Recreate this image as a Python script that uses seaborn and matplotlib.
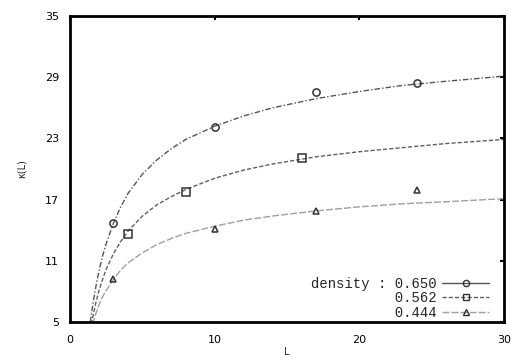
import numpy as np
import pandas as pd
import matplotlib
matplotlib.use("Agg")
import matplotlib.pyplot as plt
import seaborn as sns
from matplotlib.lines import Line2D

densities = ["0.650", "0.562", "0.444"]

# measured points
pts_x_650 = [3, 10, 17, 24]
pts_y_650 = [14.7, 24.1, 27.5, 28.4]
pts_x_562 = [4, 8, 16]
pts_y_562 = [13.6, 17.8, 21.1]
pts_x_444 = [3, 10, 17, 24]
pts_y_444 = [9.2, 14.1, 15.9, 17.9]

# fitted curves
curve_x = [1.4, 1.6, 1.8, 2, 2.25, 2.5, 3, 3.5, 4, 5, 6, 7, 8, 10, 12, 14, 17, 20, 23, 26, 30]
curve_650 = [5.0, 7.0, 8.6, 10.0, 11.5, 12.7, 14.7, 16.3, 17.6, 19.5, 20.9, 22.0, 22.9, 24.2,
             25.2, 26.0, 26.9, 27.6, 28.2, 28.6, 29.1]
curve_562 = [4.2, 5.7, 7.0, 8.1, 9.2, 10.2, 11.7, 12.9, 13.9, 15.4, 16.5, 17.3, 18.0, 19.1,
             19.9, 20.5, 21.2, 21.7, 22.1, 22.5, 22.9]
curve_444 = [3.9, 5.0, 5.9, 6.7, 7.5, 8.1, 9.2, 10.1, 10.8, 11.8, 12.6, 13.2, 13.7, 14.4,
             15.0, 15.4, 15.9, 16.3, 16.6, 16.8, 17.1]

sns.set_style("white")
plt.rcParams['font.family'] = ['DejaVu Sans']

fig = plt.figure(figsize=(5.15, 3.62), dpi=100)
ax = fig.add_axes([0.136, 0.110, 0.843, 0.846])

styles = {
    "0.650": dict(color="#555555", ls=(0, (4, 1.5, 1, 1.5)), marker="o", ms=5.2),
    "0.562": dict(color="#606060", ls=(0, (3, 1.5)), marker="s", ms=5.2),
    "0.444": dict(color="#a0a0a0", ls=(0, (5, 1.5)), marker="^", ms=5),
}
curves = {"0.650": curve_650, "0.562": curve_562, "0.444": curve_444}
points = {"0.650": (pts_x_650, pts_y_650), "0.562": (pts_x_562, pts_y_562),
          "0.444": (pts_x_444, pts_y_444)}

for d in densities:
    st = styles[d]
    df = pd.DataFrame({"L": curve_x, "k": curves[d]})
    sns.lineplot(data=df, x="L", y="k", ax=ax, color=st["color"], linestyle=st["ls"],
                 linewidth=1.0, legend=False)
    px, py = points[d]
    ax.plot(px, py, linestyle="none", marker=st["marker"], ms=st["ms"],
            markerfacecolor="none", markeredgecolor="#333333", markeredgewidth=1.1)

ax.set_xlim(0, 30)
ax.set_ylim(5, 35)
ax.set_xticks([0, 10, 20, 30])
ax.set_yticks([5, 11, 17, 23, 29, 35])
ax.tick_params(direction="in", length=3, width=1.5, top=True, right=True,
               labelsize=8, colors="black")
ax.tick_params(axis="x", pad=9)
ax.tick_params(axis="y", pad=8)
for s in ax.spines.values():
    s.set_linewidth(2)
    s.set_color("black")
ax.set_xlabel("L", fontsize=7, labelpad=2)
ax.set_ylabel("κ(L)", fontsize=7, labelpad=13)

handles = []
labels = ["density : 0.650", "          0.562", "          0.444"]
for d in densities:
    st = styles[d]
    handles.append(Line2D([], [], color=st["color"], linestyle=st["ls"] if d != "0.650" else "-",
                          linewidth=1.0, marker=st["marker"], ms=4.5,
                          markerfacecolor="none", markeredgecolor="#333333"))
leg = ax.legend(handles, labels, loc="lower right", bbox_to_anchor=(0.985, -0.02),
                frameon=False, markerfirst=False, handlelength=3.4, handletextpad=0.4,
                labelspacing=0.05, prop={"family": "Liberation Mono", "size": 10},
                borderaxespad=0.2)

fig.savefig("out.png", dpi=100)
